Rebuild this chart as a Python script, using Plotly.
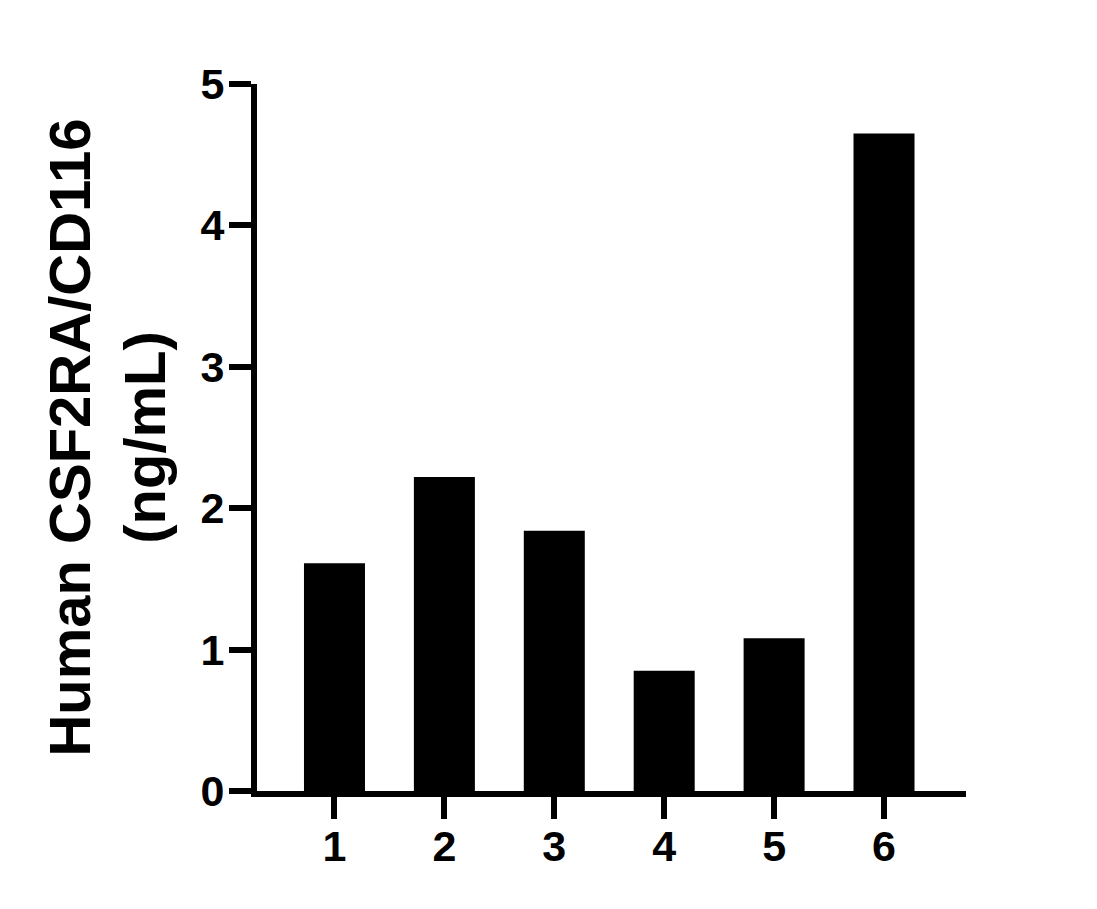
import plotly.graph_objects as go

# sample ids and measured concentrations (ng/mL)
samples = [1, 2, 3, 4, 5, 6]
conc = [1.61, 2.22, 1.84, 0.85, 1.08, 4.65]

y_ticks = [0, 1, 2, 3, 4, 5]

font_family = "Liberation Sans, Arial, sans-serif"

fig = go.Figure(
    go.Bar(
        x=samples,
        y=conc,
        width=0.555,
        marker=dict(color="black", line=dict(width=0)),
    )
)

# page has an 8px body margin, so margins are shifted by that
fig.update_layout(
    width=1097,
    height=909,
    plot_bgcolor="white",
    paper_bgcolor="white",
    showlegend=False,
    margin=dict(l=249, r=139, t=76, b=126),
    font=dict(family=font_family, color="black"),
)

fig.update_xaxes(
    range=[0.295, 6.746],
    tickvals=samples,
    ticktext=[str(s) for s in samples],
    showgrid=False,
    zeroline=False,
    showline=True,
    linecolor="black",
    linewidth=6,
    ticks="outside",
    ticklen=22,
    tickwidth=6,
    tickcolor="black",
    ticklabelstandoff=-10,
    tickfont=dict(size=43, weight="bold"),
)

fig.update_yaxes(
    range=[0, 5],
    tickvals=y_ticks,
    showgrid=False,
    zeroline=False,
    showline=True,
    linecolor="black",
    linewidth=6,
    ticks="outside",
    ticklen=22,
    tickwidth=6,
    tickcolor="black",
    ticklabelstandoff=-4,
    tickfont=dict(size=43, weight="bold"),
    title=dict(
        text="Human CSF2RA/CD116<br>(ng/mL)",
        font=dict(size=58, weight="bold"),
        standoff=18,
    ),
)

fig.write_html("out.html")
